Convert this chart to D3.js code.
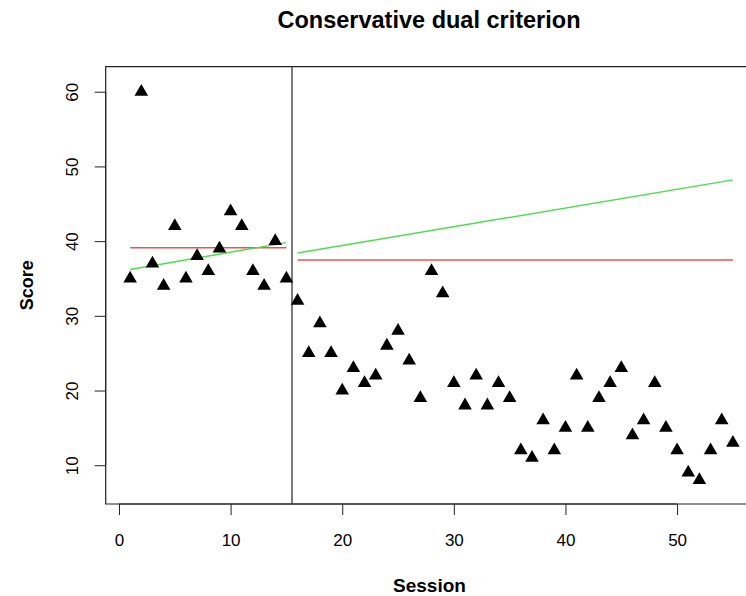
<!DOCTYPE html>
<html>
<head>
<meta charset="utf-8">
<script src="https://cdn.jsdelivr.net/npm/d3@7"></script>
<style>
  body { margin: 0; background: #fff; }
  svg { font-family: "Liberation Sans", Arial, sans-serif; }
</style>
</head>
<body>
<div id="chart"></div>
<script>
const sessions = [1, 2, 3, 4, 5, 6, 7, 8, 9, 10, 11, 12, 13, 14, 15,
  16, 17, 18, 19, 20, 21, 22, 23, 24, 25, 26, 27, 28, 29, 30,
  31, 32, 33, 34, 35, 36, 37, 38, 39, 40, 41, 42, 43, 44, 45,
  46, 47, 48, 49, 50, 51, 52, 53, 54, 55];
const scores = [35, 60, 37, 34, 42, 35, 38, 36, 39, 44, 42, 36, 34, 40, 35,
  32, 25, 29, 25, 20, 23, 21, 22, 26, 28, 24, 19, 36, 33, 21,
  18, 22, 18, 21, 19, 12, 11, 16, 12, 15, 22, 15, 19, 21, 23,
  14, 16, 21, 15, 12, 9, 8, 12, 16, 13];

// mean lines: [x0, x1, y]
const meanLines = [[1, 15, 39.13], [16, 55, 37.49]];
// trend lines: [x0, y0, x1, y1]
const trendLines = [[1, 36.2, 15, 39.8], [16, 38.4, 55, 48.2]];
const phaseChange = 15.5;

const xTicks = [0, 10, 20, 30, 40, 50];
const yTicks = [10, 20, 30, 40, 50, 60];

const width = 746;
const height = 596;
const box = { left: 105.7, right: 757, top: 66.7, bottom: 504 };

const svg = d3.select('#chart')
  .append('svg')
  .attr('width', width)
  .attr('height', height);

const x = d3.scaleLinear().domain([-1.19, 57.16]).range([box.left, box.right]);
const y = d3.scaleLinear().domain([4.81, 63.35]).range([box.bottom, box.top]);

// title
svg.append('text')
  .attr('x', 429)
  .attr('y', 28)
  .attr('text-anchor', 'middle')
  .style('font-size', '23.5px')
  .style('font-weight', 'bold')
  .text('Conservative dual criterion');

// x axis (R style: line only between first and last tick)
const xAxis = svg.append('g')
  .attr('transform', `translate(0,${box.bottom})`)
  .call(d3.axisBottom(x).tickValues(xTicks).tickSize(11).tickPadding(20).tickSizeOuter(0));
xAxis.select('.domain').attr('d', `M${x(0)},0H${x(50)}`);
xAxis.selectAll('text').style('font-size', '17px').attr('dy', 0).attr('y', 42);

const yAxis = svg.append('g')
  .attr('transform', `translate(${box.left},0)`)
  .call(d3.axisLeft(y).tickValues(yTicks).tickSize(11).tickSizeOuter(0));
yAxis.select('.domain').attr('d', `M0,${y(10)}V${y(60)}`);
yAxis.selectAll('.tick text')
  .style('font-size', '17px')
  .attr('x', null)
  .attr('dy', null)
  .attr('transform', 'translate(-28,0) rotate(-90)')
  .attr('text-anchor', 'middle');
svg.selectAll('.tick line, .domain').attr('stroke', '#222');

// plot box (right edge falls outside the picture)
svg.append('path')
  .attr('d', `M${box.right},${box.top}H${box.left}V${box.bottom}H${box.right}`)
  .attr('fill', 'none')
  .attr('stroke', '#222')
  .attr('stroke-width', 1.2);

// axis titles
svg.append('text')
  .attr('x', 429.5)
  .attr('y', 592)
  .attr('text-anchor', 'middle')
  .style('font-size', '19px')
  .style('font-weight', 'bold')
  .text('Session');

svg.append('text')
  .attr('transform', `translate(32.5,${(box.top + box.bottom) / 2}) rotate(-90)`)
  .attr('text-anchor', 'middle')
  .style('font-size', '18px')
  .style('font-weight', 'bold')
  .text('Score');

// phase change line
svg.append('line')
  .attr('x1', x(phaseChange)).attr('x2', x(phaseChange))
  .attr('y1', box.top).attr('y2', box.bottom)
  .attr('stroke', '#333')
  .attr('stroke-width', 1.3);

// mean lines
svg.selectAll('.mean')
  .data(meanLines)
  .join('line')
  .attr('class', 'mean')
  .attr('x1', (d) => x(d[0]))
  .attr('x2', (d) => x(d[1]))
  .attr('y1', (d) => y(d[2]))
  .attr('y2', (d) => y(d[2]))
  .attr('stroke', '#f05050')
  .attr('stroke-width', 1.5);

// trend lines
svg.selectAll('.trend')
  .data(trendLines)
  .join('line')
  .attr('class', 'trend')
  .attr('x1', (d) => x(d[0]))
  .attr('y1', (d) => y(d[1]))
  .attr('x2', (d) => x(d[2]))
  .attr('y2', (d) => y(d[3]))
  .attr('stroke', '#4fdc4f')
  .attr('stroke-width', 1.5);

// points
svg.selectAll('.pt')
  .data(sessions)
  .join('path')
  .attr('class', 'pt')
  .attr('d', d3.symbol(d3.symbolTriangle, 80))
  .attr('transform', (d, i) => `translate(${x(d)},${y(scores[i])})`)
  .attr('fill', '#000');
</script>
</body>
</html>
